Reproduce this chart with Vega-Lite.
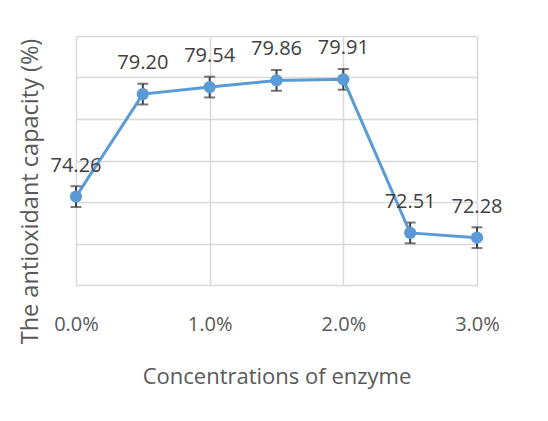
{
  "$schema": "https://vega.github.io/schema/vega-lite/v6.json",
  "width": 401,
  "height": 249,
  "autosize": "none",
  "padding": {"left": 76, "top": 36, "right": 70, "bottom": 136},
  "background": "white",
  "config": {
    "view": {"stroke": null},
    "font": "Open Sans",
    "axis": {"gridColor": "#D9D9D9", "gridWidth": 1.5, "domain": false, "ticks": false, "labelColor": "#595959", "titleColor": "#595959", "titleFontWeight": "normal"}
  },
  "data": {
    "values": [
      {"conc": 0.000, "value": 74.26, "err": 0.5},
      {"conc": 0.005, "value": 79.20, "err": 0.5},
      {"conc": 0.010, "value": 79.54, "err": 0.5},
      {"conc": 0.015, "value": 79.86, "err": 0.5},
      {"conc": 0.020, "value": 79.91, "err": 0.5},
      {"conc": 0.025, "value": 72.51, "err": 0.5},
      {"conc": 0.030, "value": 72.28, "err": 0.5}
    ]
  },
  "encoding": {
    "x": {
      "field": "conc", "type": "quantitative",
      "scale": {"domain": [0, 0.03], "nice": false, "zero": false},
      "axis": {"values": [0, 0.01, 0.02, 0.03], "format": ".1%", "title": "Concentrations of enzyme", "labelFontSize": 20, "titleFontSize": 22, "labelPadding": 29, "titlePadding": 32, "labelFlush": false}
    },
    "y": {
      "field": "value", "type": "quantitative",
      "scale": {"domain": [70, 82], "nice": false, "zero": false},
      "axis": {"values": [70, 72, 74, 76, 78, 80, 82], "labels": false, "title": "The antioxidant capacity (%)", "titleFontSize": 23.5, "titlePadding": 34, "titleY": 155}
    }
  },
  "layer": [
    {
      "mark": {"type": "errorbar", "ticks": {"size": 11, "thickness": 2, "color": "#404040"}, "color": "#404040", "thickness": 2},
      "encoding": {"yError": {"field": "err"}}
    },
    {"mark": {"type": "line", "color": "#5B9BD5", "strokeWidth": 3}},
    {"mark": {"type": "circle", "color": "#5B9BD5", "opacity": 1, "size": 150}},
    {
      "mark": {"type": "text", "dy": -31, "fontSize": 20, "color": "#404040"},
      "encoding": {"text": {"field": "value", "type": "quantitative", "format": ".2f"}}
    }
  ]
}
